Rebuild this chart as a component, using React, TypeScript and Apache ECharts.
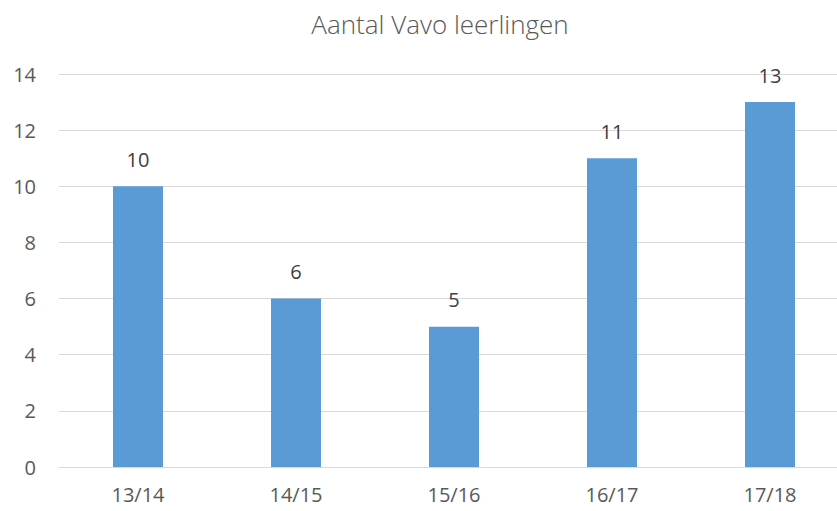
import React, { useEffect, useRef } from "react";
import * as echarts from "echarts";

const categories = ["13/14", "14/15", "15/16", "16/17", "17/18"];
const values = [10, 6, 5, 11, 13];
const chartTitle = "Aantal Vavo leerlingen";

export default function App() {
  const ref = useRef<HTMLDivElement>(null);
  useEffect(() => {
    document.body.style.margin = "0";
    const chart = echarts.init(ref.current!, null, { renderer: "svg" });
    const font = "Open Sans";
    chart.setOption({
      animation: false,
      backgroundColor: "#ffffff",
      title: {
        text: chartTitle,
        left: 435,
        top: 6,
        textAlign: "center",
        textStyle: { fontFamily: font, fontSize: 26, fontWeight: 300, color: "#595959" },
      },
      grid: { left: 59, width: 790, top: 74, height: 393, outerBoundsMode: "none", containLabel: false },
      xAxis: {
        type: "category",
        data: categories,
        axisLine: { lineStyle: { color: "#d9d9d9" } },
        axisTick: { show: false },
        axisLabel: { fontFamily: font, fontSize: 20, color: "#595959", margin: 17 },
      },
      yAxis: {
        type: "value",
        min: 0,
        max: 14,
        interval: 2,
        axisLine: { show: false },
        axisTick: { show: false },
        splitLine: { lineStyle: { color: "#d9d9d9" } },
        axisLabel: { fontFamily: font, fontSize: 20, color: "#595959", margin: 23 },
      },
      series: [
        {
          type: "bar",
          data: values,
          barWidth: 50,
          itemStyle: { color: "#5b9bd5" },
          label: {
            show: true,
            position: "top",
            distance: 17,
            fontFamily: font,
            fontSize: 20,
            color: "#404040",
          },
        },
      ],
    });
    return () => chart.dispose();
  }, []);
  return <div ref={ref} style={{ width: 837, height: 511 }} />;
}
